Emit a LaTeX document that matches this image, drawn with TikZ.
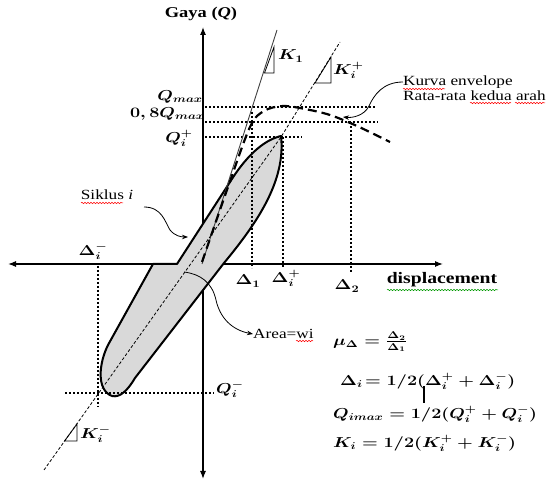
\documentclass[tikz,border=0pt]{standalone}
\usepackage[no-math]{fontspec}
\setmainfont[FakeStretch=1.23]{Liberation Serif}
\usepackage{graphicx}
\usetikzlibrary{arrows.meta,decorations.pathmorphing}
\newcommand\mx[1]{\scalebox{1.25}[1]{\boldmath$#1$}}
\begin{document}
\begin{tikzpicture}[x=1pt,y=-1pt,
  axisln/.style={line width=1.1pt,{Latex[length=8pt,width=6pt]}-{Latex[length=8pt,width=6pt]}},
  dotln/.style={line width=1.3pt,dash pattern=on 2pt off 2pt},
  lbl/.style={inner sep=0pt,font=\fontsize{14.5}{17}\selectfont},
  txt/.style={inner sep=0pt,font=\fontsize{14}{13}\selectfont},
  bold/.style={inner sep=0pt,font=\fontsize{15}{17}\selectfont\bfseries},
  callout/.style={line width=0.8pt,-{Stealth[length=6pt,width=4.5pt]}},
  squig/.style={decorate,decoration={snake,amplitude=0.7pt,segment length=3pt},line width=0.5pt},
  tri/.style={line width=0.8pt},
]
\useasboundingbox (0,0) rectangle (547,481);

% axes
\coordinate (ytop) at (203,27);
\coordinate (ybot) at (203,479);
\coordinate (xl) at (8,264);
\coordinate (xr) at (443,264);
\draw[axisln] (ybot) -- (ytop);
\draw[axisln] (xl) -- (xr);

% hysteresis loop
\draw[line width=2pt,fill=black!15,line join=round]
  (281,136) .. controls (268,139) and (250,150) .. (230,182)
  -- (177,264) -- (153,264)
  -- (108,345) .. controls (99,363) and (96,390) .. (112,396)
  .. controls (120,398) and (128,390) .. (135,378)
  -- (224,263) .. controls (258,222) and (286,180) .. (281,136) -- cycle;

% dotted guide lines
\draw[dotln] (205,107) -- (376,107);
\draw[dotln] (205,122) -- (378,122);
\draw[dotln] (205,137) -- (302,137);
\draw[dotln] (252,112) -- (252,268);
\draw[dotln] (283,137) -- (283,268);
\draw[dotln] (351,122) -- (351,272);
\draw[dotln] (98,266) -- (98,407);
\draw[dotln] (65,393) -- (214,393);

% stiffness lines
\draw[line width=0.9pt,black!75] (202,264) -- (277,30);
\draw[tri] (264.5,73) -- (274,73) -- (274,47) -- cycle;
\draw[line width=0.8pt,dash pattern=on 3pt off 2pt] (44,470) -- (281,137) -- (340,42);
\draw[tri] (315,83) -- (331,83) -- (331,57) -- cycle;
\draw[tri] (64.5,441) -- (77,441) -- (77,424) -- cycle;

% envelope
\draw[line width=2.2pt,dash pattern=on 9pt off 5pt]
  plot[smooth,tension=0.55] coordinates {(202,262) (228,187) (250,127) (264,111) (283,106) (305,109) (330,115) (357,126) (390,142)};

% axis labels
\node[bold] (gaya) at (201,14) {Gaya (\textit{Q})};
\node[bold,font=\fontsize{16}{18}\selectfont\bfseries] (disp) at (442,280) {displacement};
\draw[squig,green!60!black] (387,290) -- (498,290);

\node[lbl] (d1) at (248,281) {\mx{\Delta_1}};
\node[lbl] (dip) at (286,278) {\mx{\Delta_i^+}};
\node[lbl] (d2) at (347,286) {\mx{\Delta_2}};
\node[lbl] (dim) at (93,251) {\mx{\Delta_i^-}};
\node[lbl,anchor=east] (qmax) at (203,97) {\mx{Q_{max}}};
\node[lbl,anchor=east] (q08) at (205,114) {\mx{0,8Q_{max}}};
\node[lbl,anchor=east] (qip) at (193,138) {\mx{Q_i^+}};
\node[lbl,anchor=west] (qim) at (216,389) {\mx{Q_i^-}};
\node[lbl,anchor=west] (k1) at (278,56) {\mx{K_1}};
\node[lbl,anchor=west] (kip) at (333,70) {\mx{K_i^+}};
\node[lbl,anchor=west] (kim) at (80,434) {\mx{K_i^-}};

% formulas
\node[lbl,anchor=west] (mu) at (333,342) {\mx{\mu_\Delta = \frac{\Delta_2}{\Delta_1}}};
\node[lbl,anchor=west] (fdel) at (340,381) {\mx{\Delta_i\!= 1/2(\Delta_i^+ + \Delta_i^-)}};
\node[lbl,anchor=west] (fq) at (333,414) {\mx{Q_{imax} = 1/2(Q_i^+ + Q_i^-)}};
\node[lbl,anchor=west] (fk) at (333,443) {\mx{K_i = 1/2(K_i^+ + K_i^-)}};
\draw[line width=2.5pt] (424,386) -- (424,403);

% text callouts
\node[txt] (sik) at (107,195) {Siklus \textit{i}};
\draw[squig,red] (81,203) -- (123,203);
\coordinate (sikA) at (144,207);
\coordinate (sikB) at (188,237);
\draw[callout] (sikA) .. controls (162,207) and (165,222) .. (170,230) .. controls (175,236) and (181,237) .. (sikB);

\node[txt,anchor=west] (area) at (253,334) {Area=wi};
\draw[squig,red] (296,341) -- (313,341);
\coordinate (areaA) at (184,272);
\draw[callout] (areaA) .. controls (200,274) and (212,282) .. (216,300) .. controls (220,318) and (232,330) .. (area.west);

\node[txt,anchor=west] (kurva) at (403,82) {Kurva envelope};
\node[txt,anchor=west] (rata) at (403,96) {Rata-rata kedua arah};
\draw[squig,red] (403,89) -- (445,89);
\draw[squig,red] (470,103) -- (511,103);
\draw[squig,red] (515,103) -- (545,103);
\coordinate (envpt) at (343,117);
\draw[callout] (kurva.west) .. controls (383,82) and (374,95) .. (369,106) .. controls (364,116) and (352,118) .. (envpt);
\end{tikzpicture}
\end{document}
